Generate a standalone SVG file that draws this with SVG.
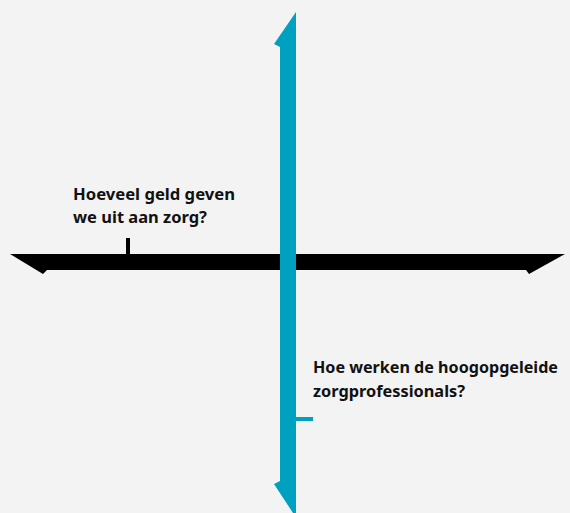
<svg xmlns="http://www.w3.org/2000/svg" width="570" height="513" viewBox="0 0 570 513">
<style>
.lbl{font-family:"Noto Sans","Open Sans",sans-serif;font-weight:bold;font-size:16.5px;fill:#111}
</style>
<rect width="570" height="513" fill="#f3f3f3"/>
<g id="connectors">
<polygon id="h-axis" points="10,254 565,254 529,274 526,270 47,270 43,274" fill="#000"/>
<rect id="h-tick" x="126" y="238" width="4" height="16" fill="#000"/>
<polygon id="v-axis" points="296,12 296,513 293,513 274,484 280,481 280,47 274,44" fill="#00a0c0"/>
<rect id="v-tick" x="296" y="417" width="17" height="4" fill="#00a0c0"/>
</g>
<g id="label-left">
<text class="lbl" x="73" y="200" textLength="162" lengthAdjust="spacingAndGlyphs">Hoeveel geld geven</text>
<text class="lbl" x="73" y="223" textLength="134" lengthAdjust="spacingAndGlyphs">we uit aan zorg?</text>
</g>
<g id="label-right">
<text class="lbl" x="313" y="373" textLength="245" lengthAdjust="spacingAndGlyphs">Hoe werken de hoogopgeleide</text>
<text class="lbl" x="313" y="397" textLength="152" lengthAdjust="spacingAndGlyphs">zorgprofessionals?</text>
</g>
</svg>
